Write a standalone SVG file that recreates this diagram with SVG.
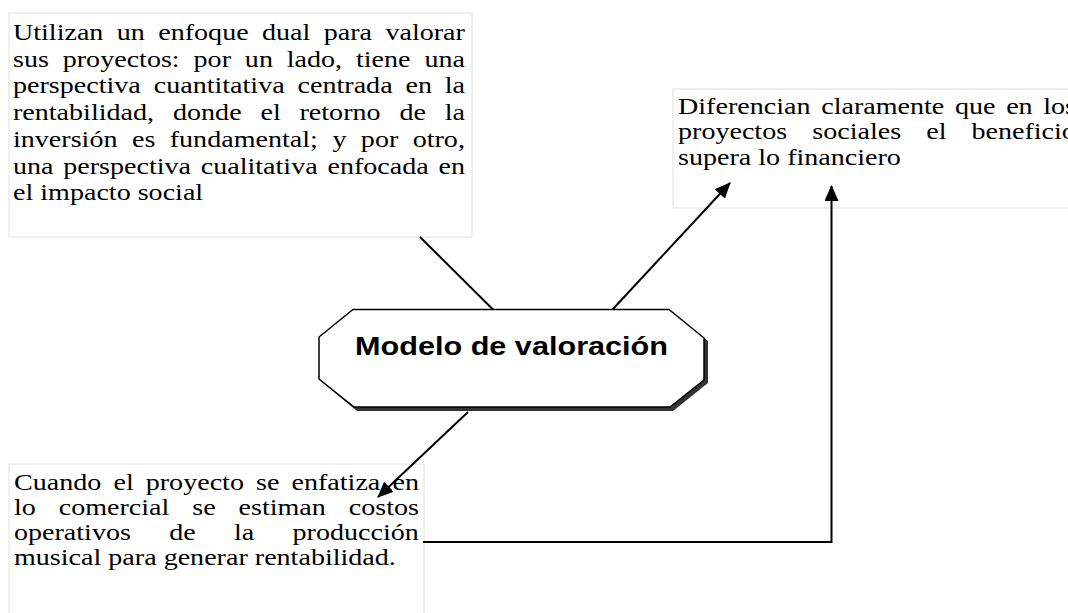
<svg xmlns="http://www.w3.org/2000/svg" width="1068" height="613" viewBox="0 0 1068 613">
<style>
.box{fill:#fff;stroke:#e2e2e2;stroke-width:1}
.t{font-family:"Liberation Serif","Times New Roman",serif;font-size:24px;fill:#000}
.title{font-family:"Liberation Sans",Arial,sans-serif;font-size:25.5px;font-weight:bold;fill:#000}
.con{stroke:#000;stroke-width:2;fill:none}
</style>
<defs>
<marker id="arr" markerUnits="userSpaceOnUse" markerWidth="16" markerHeight="14" refX="15" refY="7" orient="auto">
<path d="M0,0 L16,7 L0,14 Z" fill="#000"/>
</marker>
</defs>
<rect width="1068" height="613" fill="#fff"/>
<g id="node-top-left">
<rect class="box" x="9" y="13" width="463" height="224"/>
<text class="t" transform="scale(1.17,1)">
<tspan x="11.11" y="40">Utilizan</tspan><tspan x="99.86" y="40">un</tspan><tspan x="135.25" y="40">enfoque</tspan><tspan x="223.97" y="40">dual</tspan><tspan x="276.7" y="40">para</tspan><tspan x="329.4" y="40">valorar</tspan>
<tspan x="11.11" y="66.75">sus</tspan><tspan x="53.61" y="66.75">proyectos:</tspan><tspan x="165.46" y="66.75">por</tspan><tspan x="209.28" y="66.75">un</tspan><tspan x="245.1" y="66.75">lado,</tspan><tspan x="304.26" y="66.75">tiene</tspan><tspan x="362.76" y="66.75">una</tspan>
<tspan x="11.11" y="93.5">perspectiva</tspan><tspan x="131.37" y="93.5">cuantitativa</tspan><tspan x="254.31" y="93.5">centrada</tspan><tspan x="346.53" y="93.5">en</tspan><tspan x="380.09" y="93.5">la</tspan>
<tspan x="11.11" y="120.25">rentabilidad,</tspan><tspan x="147.88" y="120.25">donde</tspan><tspan x="222.62" y="120.25">el</tspan><tspan x="255.99" y="120.25">retorno</tspan><tspan x="341.38" y="120.25">de</tspan><tspan x="380.09" y="120.25">la</tspan>
<tspan x="11.11" y="147">inversión</tspan><tspan x="112.79" y="147">es</tspan><tspan x="145.09" y="147">fundamental;</tspan><tspan x="284.12" y="147">y</tspan><tspan x="308.42" y="147">por</tspan><tspan x="352.73" y="147">otro,</tspan>
<tspan x="11.11" y="173.75">una</tspan><tspan x="54.01" y="173.75">perspectiva</tspan><tspan x="171.6" y="173.75">cualitativa</tspan><tspan x="279.86" y="173.75">enfocada</tspan><tspan x="374.75" y="173.75">en</tspan>
<tspan x="11.11" y="200.5">el impacto social</tspan>
</text>
</g>
<g id="node-top-right">
<rect class="box" x="673" y="89" width="400" height="119"/>
<text class="t" transform="scale(1.17,1)">
<tspan x="579.49" y="114">Diferencian</tspan><tspan x="701.86" y="114">claramente</tspan><tspan x="816.24" y="114">que</tspan><tspan x="859.94" y="114">en</tspan><tspan x="891.63" y="114">los</tspan>
<tspan x="579.49" y="139.5">proyectos</tspan><tspan x="694.21" y="139.5">sociales</tspan><tspan x="791.6" y="139.5">el</tspan><tspan x="830.29" y="139.5">beneficio</tspan>
<tspan x="579.49" y="165">supera lo financiero</tspan>
</text>
</g>
<g id="node-bottom-left">
<rect class="box" x="9" y="464" width="415" height="155"/>
<text class="t" transform="scale(1.17,1)">
<tspan x="11.97" y="490">Cuando</tspan><tspan x="96.96" y="490">el</tspan><tspan x="124.57" y="490">proyecto</tspan><tspan x="218.88" y="490">se</tspan><tspan x="249.16" y="490">enfatiza</tspan><tspan x="335.45" y="490">en</tspan>
<tspan x="11.97" y="515">lo</tspan><tspan x="50.15" y="515">comercial</tspan><tspan x="164.36" y="515">se</tspan><tspan x="203.87" y="515">estiman</tspan><tspan x="298.09" y="515">costos</tspan>
<tspan x="11.97" y="540">operativos</tspan><tspan x="144.69" y="540">de</tspan><tspan x="200.04" y="540">la</tspan><tspan x="250.06" y="540">producción</tspan>
<tspan x="11.97" y="565">musical para generar rentabilidad.</tspan>
</text>
</g>
<g id="node-center">
<polygon points="357,312.5 673,312.5 708,341 708,383 673,411 357,411 322,382 322,340" fill="#333"/>
<polygon points="353,309.5 669,309.5 704,338 704,380 670,407 354,407 319,379 319,337" fill="#fff" stroke="#000" stroke-width="1.5"/>
<text class="title" x="355" y="355" textLength="313" lengthAdjust="spacingAndGlyphs">Modelo de valoración</text>
</g>
<g id="connectors">
<line class="con" x1="420" y1="237" x2="493" y2="309.5"/>
<line class="con" x1="613" y1="309" x2="730" y2="183" marker-end="url(#arr)"/>
<line class="con" x1="468" y1="412" x2="378" y2="497" marker-end="url(#arr)"/>
<polyline class="con" points="423,542 831.5,542 831.5,186" marker-end="url(#arr)"/>
</g>
</svg>
